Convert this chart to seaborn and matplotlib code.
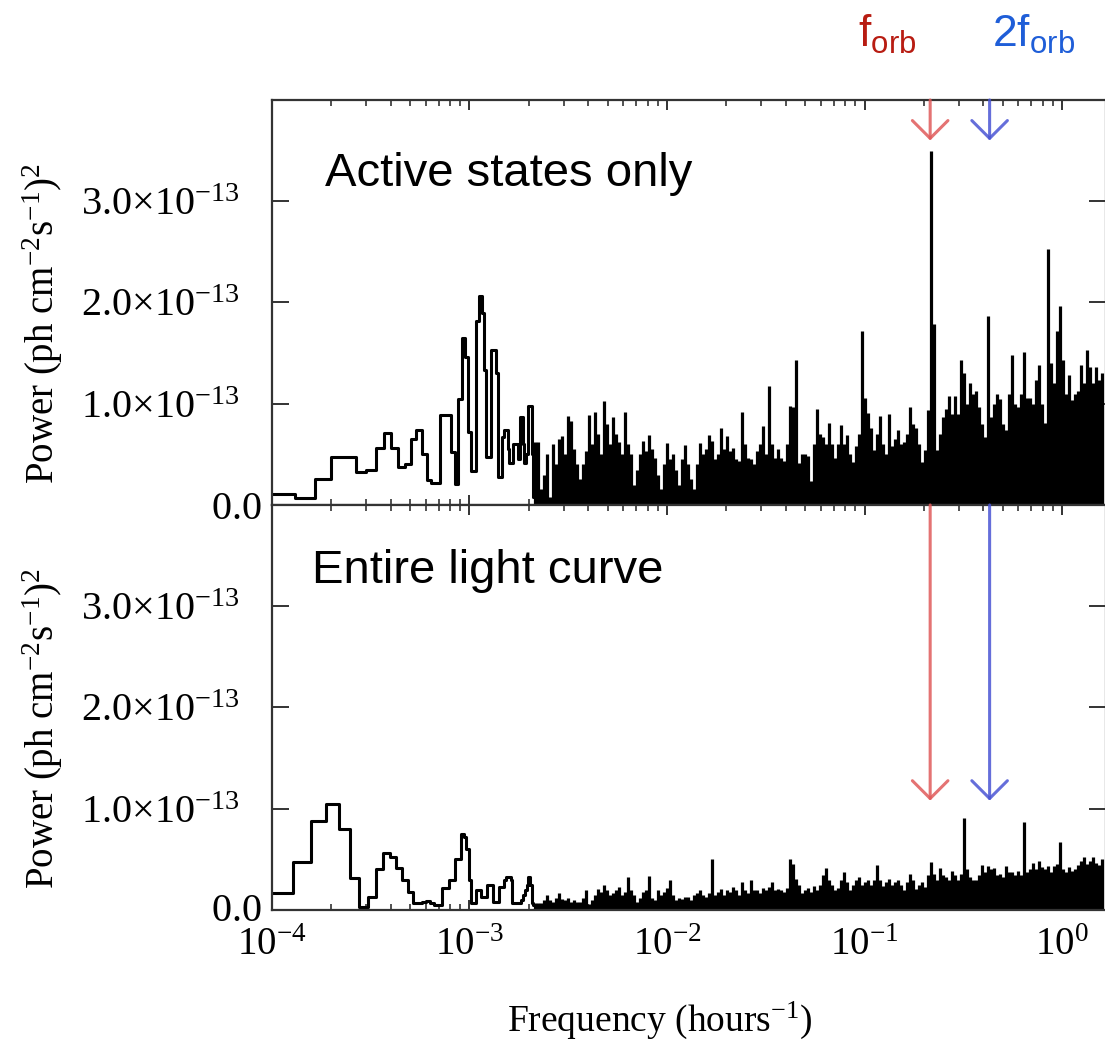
import numpy as np
import seaborn as sns
import matplotlib.pyplot as plt
from matplotlib.ticker import NullLocator, LogLocator
from matplotlib.transforms import ScaledTranslation

# power values are in units of 1e-13 (ph cm^-2 s^-1)^2
# low-frequency part: evenly spaced frequency bins (hours^-1)
top_f0 = 0.797e-4
top_df = 3.4e-5
top_lo = [0.11, 0.11, 0.07, 0.26, 0.47, 0.47, 0.33, 0.35, 0.56, 0.71,
          0.56, 0.38, 0.40, 0.65, 0.74, 0.50, 0.25, 0.22, 0.22, 0.89,
          0.89, 0.89, 0.52, 0.21, 1.05, 1.65, 1.46, 0.72, 0.34, 0.34,
          1.82, 2.06, 1.90, 1.33, 0.47, 0.47, 1.53, 1.53, 1.30, 0.28,
          0.28, 0.67, 0.74, 0.74, 0.55, 0.41, 0.41, 0.60, 0.60, 0.60,
          0.45, 0.87, 0.87, 0.60, 0.41, 0.50, 0.98, 0.98, 0.98, 0.50,
          0.08]

bot_f0 = 0.833e-4
bot_df = 2.98e-5
bot_lo = [0.17, 0.17, 0.47, 0.88, 1.05, 0.80, 0.32, 0.03, 0.13, 0.40,
          0.56, 0.52, 0.41, 0.30, 0.18, 0.07, 0.07, 0.08, 0.09, 0.07,
          0.05, 0.05, 0.22, 0.22, 0.30, 0.30, 0.50, 0.50, 0.75, 0.72,
          0.60, 0.30, 0.07, 0.07, 0.20, 0.20, 0.13, 0.13, 0.13, 0.25,
          0.25, 0.25, 0.08, 0.08, 0.08, 0.23, 0.23, 0.23, 0.30, 0.33,
          0.33, 0.33, 0.30, 0.07, 0.07, 0.07, 0.07, 0.07, 0.07, 0.10,
          0.15, 0.15, 0.20, 0.25, 0.33, 0.33, 0.25, 0.07, 0.05]

# high-frequency part: dense forest, read on a log grid from 2.146e-3 to 1.594
dense_lo, dense_hi = 2.146e-3, 1.594
top_hi = [0.62, 0.62, 0.16, 0.30, 0.50, 0.08, 0.60, 0.40, 0.65, 0.68,
          0.50, 0.88, 0.83, 0.55, 0.40, 0.26, 0.40, 0.53, 0.89, 0.60,
          0.92, 0.70, 0.50, 1.03, 0.80, 0.60, 0.87, 0.70, 0.62, 0.50,
          0.92, 0.60, 0.50, 0.20, 0.35, 0.50, 0.63, 0.53, 0.69, 0.55,
          0.46, 0.30, 0.16, 0.40, 0.61, 0.45, 0.50, 0.35, 0.20, 0.45,
          0.59, 0.40, 0.26, 0.16, 0.40, 0.61, 0.50, 0.55, 0.69, 0.63,
          0.45, 0.50, 0.76, 0.55, 0.68, 0.53, 0.56, 0.45, 0.43, 0.92,
          0.60, 0.46, 0.45, 0.40, 0.53, 0.60, 0.78, 0.50, 1.18, 0.60,
          0.46, 0.55, 0.46, 0.43, 0.60, 0.98, 0.97, 1.43, 0.41, 0.50,
          0.50, 0.48, 0.24, 0.60, 0.95, 0.70, 0.67, 0.60, 0.81, 0.60,
          0.46, 0.60, 0.79, 0.60, 0.69, 0.50, 0.42, 0.58, 0.70, 1.72,
          1.06, 0.91, 0.76, 0.54, 0.70, 0.88, 0.60, 0.50, 0.90, 0.58,
          0.65, 0.74, 0.60, 0.62, 0.70, 0.97, 0.80, 0.76, 0.60, 0.42,
          0.54, 0.94, 3.50, 1.79, 0.54, 0.70, 0.87, 0.95, 1.08, 0.90,
          1.08, 0.90, 1.43, 1.30, 1.00, 1.20, 1.10, 1.13, 0.97, 0.80,
          0.67, 1.87, 0.87, 1.00, 1.10, 1.05, 0.80, 0.74, 1.10, 1.48,
          1.00, 0.97, 1.10, 1.51, 1.06, 1.06, 1.00, 1.23, 1.38, 1.00,
          0.81, 2.53, 1.40, 1.20, 1.72, 1.97, 1.43, 1.10, 1.28, 1.04,
          1.10, 1.13, 1.38, 1.20, 1.53, 1.36, 1.20, 1.36, 1.23, 1.30]

bot_hi = [0.07, 0.07, 0.07, 0.10, 0.15, 0.10, 0.08, 0.12, 0.17, 0.11,
          0.10, 0.12, 0.08, 0.10, 0.08, 0.08, 0.12, 0.20, 0.06, 0.10,
          0.15, 0.21, 0.18, 0.25, 0.20, 0.15, 0.17, 0.20, 0.23, 0.15,
          0.18, 0.33, 0.20, 0.15, 0.08, 0.12, 0.18, 0.20, 0.34, 0.12,
          0.10, 0.20, 0.15, 0.18, 0.22, 0.30, 0.15, 0.10, 0.12, 0.11,
          0.13, 0.13, 0.10, 0.15, 0.17, 0.20, 0.15, 0.13, 0.17, 0.50,
          0.15, 0.18, 0.21, 0.15, 0.20, 0.18, 0.23, 0.20, 0.15, 0.28,
          0.20, 0.17, 0.30, 0.20, 0.20, 0.17, 0.22, 0.20, 0.23, 0.28,
          0.20, 0.21, 0.20, 0.18, 0.22, 0.50, 0.45, 0.31, 0.25, 0.17,
          0.20, 0.22, 0.18, 0.24, 0.20, 0.25, 0.35, 0.41, 0.30, 0.25,
          0.20, 0.22, 0.30, 0.38, 0.28, 0.20, 0.25, 0.30, 0.33, 0.25,
          0.28, 0.30, 0.25, 0.30, 0.44, 0.30, 0.24, 0.28, 0.31, 0.25,
          0.28, 0.30, 0.25, 0.20, 0.28, 0.36, 0.30, 0.21, 0.25, 0.28,
          0.23, 0.35, 0.47, 0.36, 0.30, 0.41, 0.35, 0.33, 0.30, 0.39,
          0.35, 0.30, 0.36, 0.91, 0.40, 0.33, 0.30, 0.30, 0.35, 0.44,
          0.38, 0.43, 0.40, 0.41, 0.35, 0.36, 0.33, 0.43, 0.38, 0.38,
          0.35, 0.39, 0.35, 0.87, 0.38, 0.40, 0.46, 0.40, 0.48, 0.42,
          0.40, 0.43, 0.38, 0.43, 0.45, 0.67, 0.40, 0.38, 0.42, 0.39,
          0.40, 0.44, 0.48, 0.52, 0.45, 0.48, 0.52, 0.46, 0.44, 0.50]

f_orb = 0.215
f_2orb = 0.43
y_ticks = [0, 1, 2, 3]
y_tick_labels = [r'$\mathdefault{0.0}$',
                 r'$\mathdefault{1.0×10^{-13}}$',
                 r'$\mathdefault{2.0×10^{-13}}$',
                 r'$\mathdefault{3.0×10^{-13}}$']
ylab = r'Power (ph cm$\mathdefault{^{-2}}$s$\mathdefault{^{-1}}$)$\mathdefault{^{2}}$'
red_arrow, blue_arrow = '#e05a5a', '#4a55d4'

sns.set_theme(style='ticks')
plt.rcParams['font.family'] = 'serif'
plt.rcParams['font.serif'] = ['Liberation Serif', 'DejaVu Serif']
plt.rcParams['mathtext.fontset'] = 'stix'
for key in ('text.color', 'axes.labelcolor', 'xtick.labelcolor', 'ytick.labelcolor'):
    plt.rcParams[key] = 'black'

fig = plt.figure(figsize=(11.05, 10.42), dpi=100)
ax_top = fig.add_axes([0.24615, 0.51536, 0.75475, 0.38868])
ax_bot = fig.add_axes([0.24615, 0.12668, 0.75475, 0.38868])

panels = [(ax_top, top_f0, top_df, top_lo, top_hi, 3.6),
          (ax_bot, bot_f0, bot_df, bot_lo, bot_hi, 1.08)]

for ax, f0, df, lo, hi, tip in panels:
    ax.set_xscale('log')
    f_lo = f0 + df * np.arange(len(lo))
    sns.lineplot(x=f_lo, y=lo, ax=ax, color='black', lw=2.2,
                 drawstyle='steps-mid', errorbar=None, sort=False)
    f_hi = np.logspace(np.log10(dense_lo), np.log10(dense_hi), len(hi))
    ax.vlines(f_hi, 0, hi, colors='black', lw=2.3)

    ax.set_xlim(1e-4, 1.67)
    ax.set_ylim(0, 4)
    ax.set_yticks(y_ticks)
    ax.set_yticklabels(y_tick_labels)
    ax.yaxis.set_minor_locator(NullLocator())
    ax.xaxis.set_major_locator(LogLocator(base=10))
    ax.xaxis.set_minor_locator(LogLocator(base=10, subs=np.arange(2, 10)))
    ax.tick_params(which='both', direction='in', top=True, right=True,
                   color='#333333')
    ax.tick_params(axis='y', which='major', length=12, width=1.4, pad=23,
                   labelsize=29)
    ax.tick_params(axis='x', which='major', length=7.5, width=1.4, pad=12,
                   labelsize=28)
    ax.tick_params(axis='x', which='minor', length=4, width=1.2)
    for sp in ax.spines.values():
        sp.set_color('#333333')
        sp.set_linewidth(1.6)

    ax.set_ylabel(ylab, fontsize=28)
    ax.yaxis.set_label_coords(-0.248, 0.449)

    for f, col in ((f_orb, red_arrow), (f_2orb, blue_arrow)):
        ax.annotate('', xy=(f, tip), xytext=(f, 4.0),
                    arrowprops=dict(arrowstyle='->,head_length=0.4,head_width=0.4',
                                    mutation_scale=32, lw=2.2, color=col,
                                    alpha=0.85, shrinkA=0, shrinkB=0))

ax_top.tick_params(labelbottom=False)
ax_top.set_xlabel('')
ax_bot.set_xlabel(r'Frequency (hours$\mathdefault{^{-1}}$)', fontsize=27)
ax_bot.xaxis.set_label_coords(0.465, -0.222)

ax_top.text(0.0636, 0.788, 'Active states only', transform=ax_top.transAxes,
            family='Liberation Sans', fontsize=34, va='baseline')
ax_bot.text(0.048, 0.807, 'Entire light curve', transform=ax_bot.transAxes,
            family='Liberation Sans', fontsize=34, va='baseline')

fig.text(858 / 1105, 1 - 47 / 1042, r'$\mathdefault{f_{orb}}$',
         family='Liberation Sans', fontsize=32, color='#b81c12', va='baseline')
fig.text(992 / 1105, 1 - 47 / 1042, r'$\mathdefault{2f_{orb}}$',
         family='Liberation Sans', fontsize=32, color='#1f5ed8', va='baseline')

# the "0.0" labels sit closer to the axis than the others
for ax, dy in ((ax_top, 0.0), (ax_bot, 0.03)):
    zero_lab = ax.yaxis.get_major_ticks()[0].label1
    zero_lab.set_transform(zero_lab.get_transform() +
                           ScaledTranslation(0.22, dy, fig.dpi_scale_trans))

fig.savefig('out.png', dpi=100)
